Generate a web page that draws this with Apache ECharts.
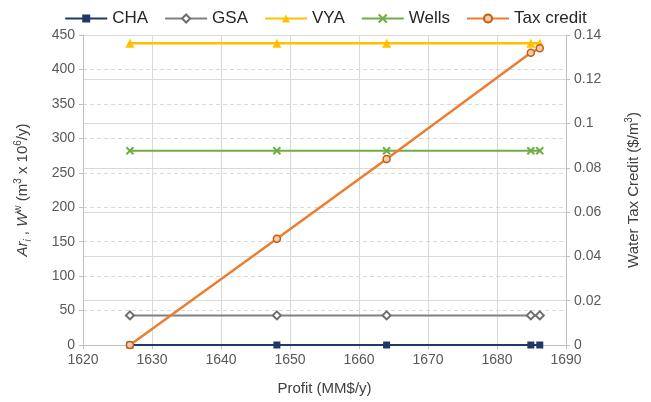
<!DOCTYPE html>
<html>
<head>
<meta charset="utf-8">
<script src="https://cdn.jsdelivr.net/npm/echarts@6/dist/echarts.min.js"></script>
<style>
  html, body { margin: 0; padding: 0; background: #fff; }
  #chart { width: 651px; height: 402px; }
</style>
</head>
<body>
<div id="chart"></div>
<script>
var profit = [1626.8, 1648.1, 1664.0, 1684.9, 1686.2];
var cha = [0, 0, 0, 0, 0];
var gsa = [43, 43, 43, 43, 43];
var vya = [438, 438, 438, 438, 438];
var wells = [282, 282, 282, 282, 282];
var taxCredit = [0, 0.048, 0.084, 0.132, 0.134];

function pairs(ys) {
  var out = [];
  for (var i = 0; i < profit.length; i++) out.push([profit[i], ys[i]]);
  return out;
}

var font = 'Liberation Sans';
var myChart = echarts.init(document.getElementById('chart'));

// 坐标轴公共样式
var axisLine = { show: true, lineStyle: { color: '#bfbfbf', width: 1 } };
var axisLabel = { color: '#595959', fontSize: 14, fontFamily: font };

var option = {
  backgroundColor: '#fff',
  animation: false,
  textStyle: { fontFamily: font },
  legend: {
    top: 5,
    left: 'center',
    itemWidth: 42,
    itemHeight: 10,
    itemGap: 16,
    textStyle: { fontSize: 17, color: '#262626', fontFamily: font },
    data: ['CHA', 'GSA', 'VYA', 'Wells', 'Tax credit']
  },
  grid: { left: 83, right: 85, top: 35, bottom: 57 },
  xAxis: {
    type: 'value',
    min: 1620, max: 1690, interval: 10,
    name: 'Profit (MM$/y)',
    nameLocation: 'middle',
    nameGap: 36,
    nameTextStyle: { fontSize: 15, color: '#404040', fontFamily: font },
    axisLine: axisLine,
    axisTick: { show: true, length: 4, lineStyle: { color: '#bfbfbf' } },
    axisLabel: {
      color: '#595959', fontSize: 14, fontFamily: font,
      formatter: function (v) { return String(v); }
    },
    splitLine: { show: true, lineStyle: { color: '#d9d9d9', width: 1 } }
  },
  yAxis: [{
    type: 'value',
    min: 0, max: 450, interval: 50,
    name: '{i|Ar}{sub|i}{n| , }{i|W}{sup|w}{n| (m}{sup|3}{n| x 10}{sup|6}{n|/y)}',
    nameLocation: 'middle',
    nameRotate: 90,
    nameGap: 50,
    nameTextStyle: {
      fontSize: 15, color: '#404040', fontFamily: font,
      rich: {
        i: { fontSize: 15, fontStyle: 'italic', color: '#404040', fontFamily: font, lineHeight: 20 },
        sub: { fontSize: 10, fontStyle: 'italic', color: '#404040', fontFamily: font, lineHeight: 20, verticalAlign: 'bottom' },
        sup: { fontSize: 10, color: '#404040', fontFamily: font, lineHeight: 20, verticalAlign: 'top' },
        n: { fontSize: 15, color: '#404040', fontFamily: font, lineHeight: 20 }
      }
    },
    axisLine: axisLine,
    axisTick: { show: true, length: 4, lineStyle: { color: '#bfbfbf' } },
    axisLabel: axisLabel,
    splitLine: { show: true, lineStyle: { color: '#d9d9d9', type: [4, 3], width: 1 } }
  }, {
    type: 'value',
    min: 0, max: 0.14, interval: 0.02,
    name: '{n|Water Tax Credit ($/m}{sup|3}{n|)}',
    nameLocation: 'middle',
    nameRotate: 90,
    nameGap: 58,
    nameTextStyle: {
      fontSize: 15, color: '#404040', fontFamily: font,
      rich: {
        sup: { fontSize: 10, color: '#404040', fontFamily: font, lineHeight: 20, verticalAlign: 'top' },
        n: { fontSize: 15, color: '#404040', fontFamily: font, lineHeight: 20 }
      }
    },
    axisLine: axisLine,
    axisTick: { show: true, length: 4, lineStyle: { color: '#bfbfbf' } },
    axisLabel: axisLabel,
    splitLine: { show: true, lineStyle: { color: '#d9d9d9', width: 1 } }
  }],
  series: [{
    name: 'CHA', type: 'line', yAxisIndex: 0, z: 3,
    data: pairs(cha),
    symbol: 'rect', symbolSize: 7,
    itemStyle: { color: '#1f3864' },
    lineStyle: { color: '#1f3864', width: 2 }
  }, {
    name: 'GSA', type: 'line', yAxisIndex: 0,
    data: pairs(gsa),
    symbol: 'diamond', symbolSize: 8,
    itemStyle: { color: '#fff', borderColor: '#6d6d6d', borderWidth: 2 },
    lineStyle: { color: '#808080', width: 2 }
  }, {
    name: 'VYA', type: 'line', yAxisIndex: 0,
    data: pairs(vya),
    symbol: 'triangle', symbolSize: 9,
    itemStyle: { color: '#ffc000' },
    lineStyle: { color: '#ffc000', width: 2.5 }
  }, {
    name: 'Wells', type: 'line', yAxisIndex: 0,
    data: pairs(wells),
    symbol: 'path://M0,0 L10,10 M10,0 L0,10', symbolSize: 7,
    itemStyle: { color: '#70ad47', borderColor: '#70ad47', borderWidth: 2 },
    lineStyle: { color: '#70ad47', width: 2 }
  }, {
    name: 'Tax credit', type: 'line', yAxisIndex: 1, z: 4,
    data: pairs(taxCredit),
    symbol: 'circle', symbolSize: 7,
    itemStyle: { color: '#f8cbad', borderColor: '#c55a11', borderWidth: 1.5 },
    lineStyle: { color: '#ed7d31', width: 2.5 }
  }]
};

myChart.setOption(option);
</script>
</body>
</html>
